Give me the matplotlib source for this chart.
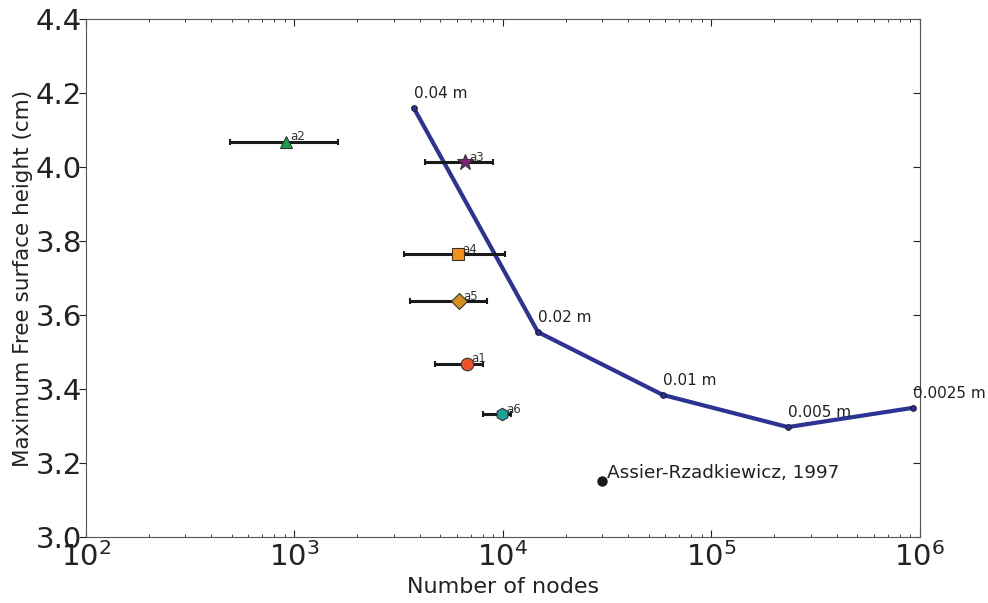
import matplotlib
matplotlib.use('Agg')
import matplotlib.pyplot as plt
import matplotlib.lines as mlines
import numpy as np

# mesh convergence: node count vs max free surface height
mesh_nodes = [3742, 14720, 58500, 232800, 925000]
mesh_height = [4.159, 3.554, 3.384, 3.297, 3.349]
mesh_labels = ['0.04 m', '0.02 m', '0.01 m', '0.005 m', '0.0025 m']

# other codes (mean nodes, min/max nodes, height)
code_names = ['a2', 'a3', 'a4', 'a5', 'a1', 'a6']
code_nodes = [910, 6575, 6084, 6150, 6720, 9890]
code_nmin = [490, 4226, 3350, 3581, 4720, 8017]
code_nmax = [1617, 8955, 10230, 8380, 8017, 10920]
code_height = [4.068, 4.013, 3.765, 3.638, 3.468, 3.332]
code_marker = ['^', '*', 's', 'D', 'o', 'h']
code_color = ['#1aa04a', '#7b2475', '#f5901e', '#d4901c', '#f0502a', '#1aa39a']
code_size = [9, 12, 9, 8, 9, 9]

ref_nodes = 29850
ref_height = 3.151
ref_label = 'Assier-Rzadkiewicz, 1997'

fig = plt.figure(figsize=(9.88, 6.03), dpi=100)
ax = fig.add_axes([0.087, 0.1095, 0.844, 0.859])

ax.plot(mesh_nodes, mesh_height, '-o', color='#2b3493', lw=3, ms=4,
        mfc='#2b3493', mec='#1a1a3a', mew=0.8)
for n, h, lab in zip(mesh_nodes, mesh_height, mesh_labels):
    ax.annotate(lab, (n, h), xytext=(0, 5), textcoords='offset points',
                fontsize=11, color='#222222', ha='left', va='bottom')

for i in range(len(code_names)):
    ax.errorbar(code_nodes[i], code_height[i],
                xerr=[[code_nodes[i] - code_nmin[i]], [code_nmax[i] - code_nodes[i]]],
                fmt='none', ecolor='#1a1a1a', elinewidth=2.2, capsize=2, capthick=1.5,
                zorder=2)
    ax.plot(code_nodes[i], code_height[i], marker=code_marker[i], ms=code_size[i],
            color=code_color[i], mec='#333333', mew=0.8, zorder=3)
    ax.annotate(code_names[i], (code_nodes[i], code_height[i]), xytext=(3, 1),
                textcoords='offset points', fontsize=8.5, color='#333333')

ax.plot(ref_nodes, ref_height, 'o', color='#1a1a1a', ms=6.5)
ax.annotate(ref_label, (ref_nodes, ref_height), xytext=(4, 2),
            textcoords='offset points', fontsize=13.3, color='#222222')

ax.set_xscale('log')
ax.set_xlim(1e2, 1e6)
ax.set_ylim(3.0, 4.4)
ax.set_yticks(np.arange(3.0, 4.41, 0.2))
ax.yaxis.set_major_formatter(matplotlib.ticker.FormatStrFormatter('%.1f'))

ax.set_xlabel('Number of nodes', fontsize=16, color='#222222', labelpad=4)
ax.set_ylabel('Maximum Free surface height (cm)', fontsize=15.5, color='#222222',
              labelpad=2)

ax.tick_params(axis='both', which='both', direction='in', top=True, right=True,
               labelsize=21, colors='#222222')
ax.tick_params(axis='y', pad=3)
ax.tick_params(which='major', length=5)
ax.tick_params(which='minor', length=2.5)
# left ticks point outward, the rest inward
for t in ax.yaxis.get_major_ticks():
    t.tick1line.set_marker(mlines.TICKLEFT)
for sp in ax.spines.values():
    sp.set_color('#555555')

fig.savefig('out.png', dpi=100)
